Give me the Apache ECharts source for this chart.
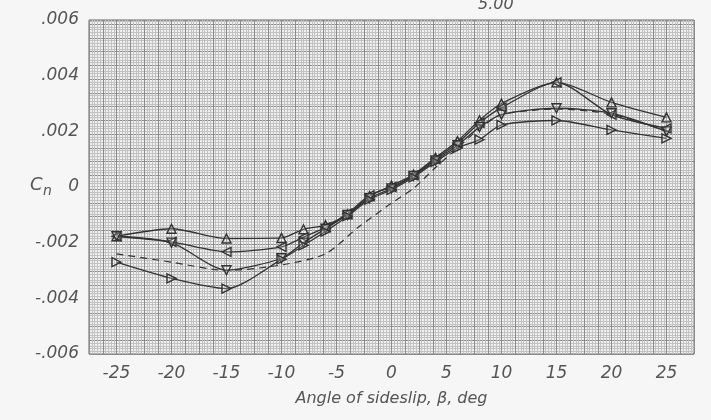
<!DOCTYPE html>
<html>
<head>
<meta charset="utf-8">
<script src="https://cdn.jsdelivr.net/npm/echarts@6/dist/echarts.min.js"></script>
<style>
  html, body { margin: 0; padding: 0; background: #f6f6f6; }
  #chart { width: 711px; height: 420px; }
</style>
</head>
<body>
<div id="chart"></div>
<script>
// sideslip angles of the test points
const beta = [-25, -20, -15, -10, -8, -6, -4, -2, 0, 2, 4, 6, 8, 10, 15, 20, 25]
// four faired curves with symbols
const cnA = [-0.00177, -0.00150, -0.00185, -0.00183, -0.00152, -0.00137, -0.00098, -0.00033, 0.00005, 0.00045, 0.00105, 0.00165, 0.00240, 0.00300, 0.00376, 0.00304, 0.00250]
const cnB = [-0.00177, -0.00197, -0.00233, -0.00215, -0.00180, -0.00145, -0.00095, -0.00030, 0.00000, 0.00042, 0.00100, 0.00158, 0.00230, 0.00285, 0.00376, 0.00260, 0.00211]
const cnC = [-0.00177, -0.00200, -0.00299, -0.00256, -0.00200, -0.00150, -0.00100, -0.00040, -0.00005, 0.00040, 0.00095, 0.00150, 0.00215, 0.00260, 0.00283, 0.00265, 0.00200]
const cnD = [-0.00270, -0.00328, -0.00365, -0.00260, -0.00210, -0.00160, -0.00105, -0.00045, -0.00010, 0.00035, 0.00090, 0.00140, 0.00170, 0.00223, 0.00239, 0.00205, 0.00175]
// dashed faired curve (no symbols)
const betaDash = [-25, -20, -15, -10, -6, -3, 0, 2, 4, 6, 8, 10, 15, 20, 25]
const cnDash = [-0.00240, -0.00270, -0.00300, -0.00280, -0.00240, -0.00144, -0.00058, -0.00005, 0.00070, 0.00140, 0.00210, 0.00260, 0.00280, 0.00262, 0.00200]

const ink = '#333'
const txt = '#555'
const font = { fontFamily: 'DejaVu Sans', fontStyle: 'italic', fontSize: 17, color: txt }

const pair = (xs, ys) => xs.map((x, i) => [x, ys[i]])

const curve = (data, rotate) => ({
  type: 'line',
  data: data,
  smooth: 0.25,
  symbol: 'triangle',
  symbolSize: 9,
  symbolRotate: rotate,
  lineStyle: { color: ink, width: 1.3 },
  itemStyle: { color: 'rgba(255,255,255,0.2)', borderColor: ink, borderWidth: 1.4 },
  z: 5
})

const myChart = echarts.init(document.getElementById('chart'))
myChart.setOption({
  backgroundColor: '#f6f6f6',
  animation: false,
  grid: {
    left: 89, right: 17, top: 20, bottom: 66,
    show: true,
    backgroundColor: '#f0f0f0',
    borderColor: '#666',
    borderWidth: 1
  },
  xAxis: [
    {
      type: 'value',
      min: -27.5,
      max: 27.5,
      interval: 2.5,
      name: 'Angle of sideslip, \u03b2, deg',
      nameLocation: 'middle',
      nameGap: 37,
      nameTextStyle: Object.assign({}, font, { fontSize: 16 }),
      axisLine: { show: false },
      axisTick: { show: false },
      splitLine: { show: false },
      axisLabel: Object.assign({}, font, {
        margin: 11,
        formatter: (v) => (v % 5 === 0 ? String(v) : '')
      })
    },
    {
      // graph paper, vertical rulings
      type: 'value',
      min: 0,
      max: 44,
      interval: 1,
      position: 'top',
      axisLine: { show: false },
      axisTick: { show: false },
      axisLabel: { show: false },
      minorTick: { show: false, splitNumber: 5 },
      splitLine: { show: true, lineStyle: { color: '#8c8c8c', width: 1 } },
      minorSplitLine: { show: true, lineStyle: { color: '#c2c2c2', width: 1 } }
    }
  ],
  yAxis: [
    {
      type: 'value',
      min: -0.006,
      max: 0.006,
      interval: 0.002,
      axisLine: { show: false },
      axisTick: { show: false },
      splitLine: { show: false },
      axisLabel: Object.assign({}, font, {
        margin: 10,
        formatter: (v) => {
          if (Math.abs(v) < 1e-9) return '0'
          return v.toFixed(3).replace('0.', '.')
        }
      })
    },
    {
      // graph paper, horizontal rulings
      type: 'value',
      min: 0,
      max: 24.3,
      interval: 1,
      position: 'right',
      axisLine: { show: false },
      axisTick: { show: false },
      axisLabel: { show: false },
      minorTick: { show: false, splitNumber: 5 },
      splitLine: { show: true, lineStyle: { color: '#8c8c8c', width: 1 } },
      minorSplitLine: { show: true, lineStyle: { color: '#c2c2c2', width: 1 } }
    }
  ],
  graphic: [
    { type: 'text', left: 30, top: 176, style: { text: 'C', font: 'italic 18px "DejaVu Sans"', fill: txt } },
    { type: 'text', left: 43, top: 184, style: { text: 'n', font: 'italic 14px "DejaVu Sans"', fill: txt } },
    { type: 'text', left: 478, top: -3, style: { text: '5.00', font: 'italic 16px "DejaVu Sans"', fill: txt } }
  ],
  series: [
    curve(pair(beta, cnA), 0),
    curve(pair(beta, cnB), 90),
    curve(pair(beta, cnC), 180),
    curve(pair(beta, cnD), -90),
    {
      type: 'line',
      data: pair(betaDash, cnDash),
      smooth: 0.25,
      symbol: 'none',
      lineStyle: { color: ink, width: 1.2, type: [7, 5] },
      z: 4
    }
  ]
})
</script>
</body>
</html>
